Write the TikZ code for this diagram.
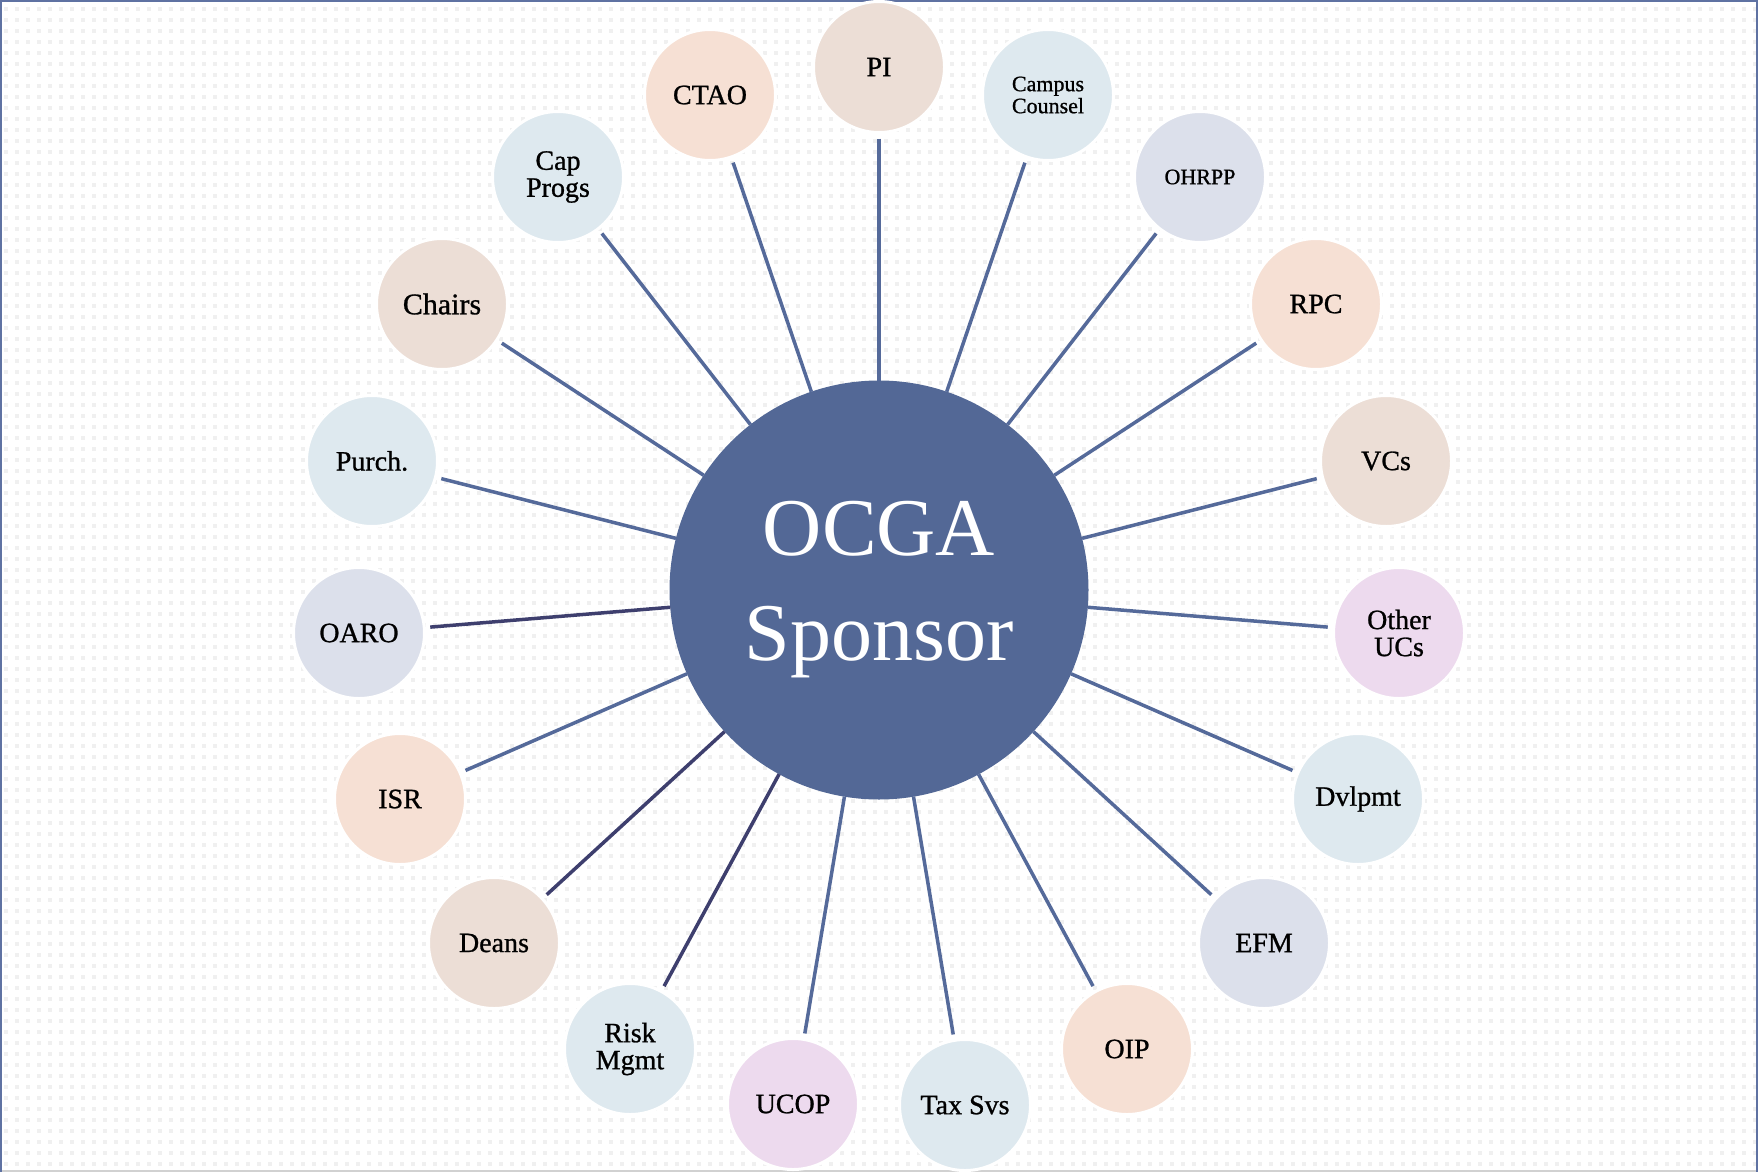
\documentclass[tikz,border=0pt]{standalone}
\usepackage{fontspec}
\setmainfont{Liberation Serif}
\newfontfamily\satfont{Liberation Serif}[FakeBold=0.9]
\definecolor{peach}{HTML}{F6E0D4}
\definecolor{tan}{HTML}{ECDED6}
\definecolor{lblue}{HTML}{DEE9EF}
\definecolor{lgray}{HTML}{DCE0EB}
\definecolor{lpink}{HTML}{EDDAEE}
\definecolor{hubblue}{HTML}{536896}
\definecolor{linecol}{HTML}{556A9A}
\definecolor{darkline}{HTML}{3E3F6E}
\definecolor{framecol}{HTML}{5F72A2}
\begin{document}
\begin{tikzpicture}[x=1pt,y=-1pt,
  sat/.style={circle, draw=white, line width=3pt, minimum size=131pt, inner sep=0pt,
    outer sep=6pt, align=center, text=black, font=\satfont\fontsize{28}{27}\selectfont},
  smalltxt/.style={font=\satfont\fontsize{22}{22}\selectfont},
  bigtxt/.style={font=\satfont\fontsize{30}{29}\selectfont},
  hub/.style={circle, fill=hubblue, minimum size=419pt, inner sep=0pt, outer sep=0pt,
    align=center, text=white, font=\fontsize{82}{105}\selectfont},
  conn/.style={draw=linecol, line width=3.5pt},
  darkconn/.style={draw=darkline, line width=3.5pt},
  dotline/.style={draw=black!6, line width=4pt, dash pattern=on 4pt off 7pt}]
\useasboundingbox (0,0) rectangle (1758,1172);
\fill[white] (0,0) rectangle (1758,1172);
\foreach \k in {0,...,105} \draw[dotline] (4,{9+11*\k}) -- (1758,{9+11*\k});
\draw[black!18, line width=2pt] (0,1171) -- (1758,1171);
\draw[framecol, line width=2pt] (1,1172) -- (1,1) -- (1757,1) -- (1757,1172);

\node[hub] (ocga) at (879,590) {OCGA\\Sponsor};

\node[sat, fill=tan] (pi) at (879,67) {PI};
\node[sat, fill=lblue, smalltxt] (cc) at (1048,95) {Campus\\Counsel};
\node[sat, fill=lgray, smalltxt] (ohrpp) at (1200,177) {OHRPP};
\node[sat, fill=peach] (rpc) at (1316,304) {RPC};
\node[sat, fill=tan] (vcs) at (1386,461) {VCs};
\node[sat, fill=lpink] (ucs) at (1399,633) {Other\\UCs};
\node[sat, fill=lblue] (dev) at (1358,799) {Dvlpmt};
\node[sat, fill=lgray] (efm) at (1264,943) {EFM};
\node[sat, fill=peach] (oip) at (1127,1049) {OIP};
\node[sat, fill=lblue] (tax) at (965,1105) {Tax Svs};
\node[sat, fill=lpink] (ucop) at (793,1104) {UCOP};
\node[sat, fill=lblue] (risk) at (630,1049) {Risk\\Mgmt};
\node[sat, fill=tan] (deans) at (494,943) {Deans};
\node[sat, fill=peach] (isr) at (400,799) {ISR};
\node[sat, fill=lgray] (oaro) at (359,633) {OARO};
\node[sat, fill=lblue] (purch) at (372,461) {Purch.};
\node[sat, fill=tan, bigtxt] (chairs) at (442,304) {Chairs};
\node[sat, fill=lblue] (cap) at (558,177) {Cap\\Progs};
\node[sat, fill=peach] (ctao) at (710,95) {CTAO};

\foreach \n in {pi,cc,ohrpp,rpc,vcs,ucs,dev,efm,oip,tax,ucop,isr,purch,chairs,cap,ctao}
  \draw[conn] (\n) -- (ocga);
\foreach \n in {risk,deans,oaro}
  \draw[darkconn] (\n) -- (ocga);
\end{tikzpicture}
\end{document}
